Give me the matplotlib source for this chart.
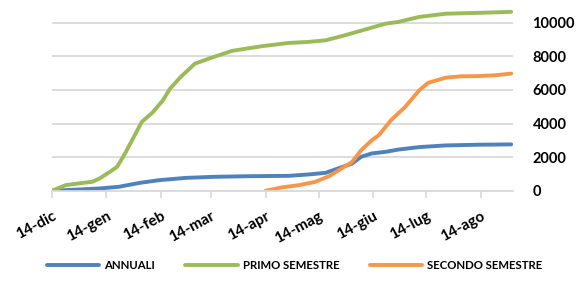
import matplotlib.pyplot as plt
import pandas as pd

OUTPUT_FILE = "out.png"

# cumulative counts
ANNUALI_DATES = [
    "2016-12-14", "2016-12-22", "2017-01-10", "2017-01-21", "2017-02-02",
    "2017-02-13", "2017-02-28", "2017-03-15", "2017-04-05", "2017-04-27",
    "2017-05-08", "2017-05-18", "2017-05-25", "2017-06-02", "2017-06-07",
    "2017-06-13", "2017-06-21", "2017-06-28", "2017-07-10", "2017-07-25",
    "2017-08-12", "2017-08-31",
]
ANNUALI = [
    0, 40, 140, 240, 475,
    635, 770, 830, 870, 890,
    970, 1070, 1330, 1620, 2020,
    2220, 2320, 2450, 2600, 2700,
    2740, 2760,
]

PRIMO_DATES = [
    "2016-12-14", "2016-12-22", "2017-01-01", "2017-01-06", "2017-01-10",
    "2017-01-16", "2017-01-20", "2017-01-24", "2017-01-29", "2017-02-03",
    "2017-02-09", "2017-02-15", "2017-02-19", "2017-02-25", "2017-03-05",
    "2017-03-13", "2017-03-26", "2017-04-12", "2017-04-27", "2017-05-08",
    "2017-05-18", "2017-05-29", "2017-06-09", "2017-06-21", "2017-06-28",
    "2017-07-10", "2017-07-25", "2017-08-12", "2017-08-31",
]
PRIMO = [
    0, 340, 475, 535, 730,
    1130, 1430, 2120, 3110, 4100,
    4650, 5390, 6080, 6770, 7560,
    7860, 8320, 8600, 8790, 8850,
    8950, 9250, 9580, 9940, 10040,
    10340, 10530, 10580, 10640,
]

SECONDO_DATES = [
    "2017-04-14", "2017-04-23", "2017-05-03", "2017-05-12", "2017-05-20",
    "2017-05-27", "2017-06-02", "2017-06-07", "2017-06-13", "2017-06-17",
    "2017-06-24", "2017-07-02", "2017-07-10", "2017-07-15", "2017-07-25",
    "2017-08-03", "2017-08-12", "2017-08-22", "2017-08-31",
]
SECONDO = [
    0, 200, 340, 530, 870,
    1330, 1720, 2400, 3000, 3300,
    4200, 4990, 5980, 6420, 6730,
    6810, 6820, 6870, 6970,
]

TICK_DATES = [
    "2016-12-14", "2017-01-14", "2017-02-14", "2017-03-14", "2017-04-14",
    "2017-05-14", "2017-06-14", "2017-07-14", "2017-08-14",
]
TICK_LABELS = [
    "14-dic", "14-gen", "14-feb", "14-mar", "14-apr",
    "14-mag", "14-giu", "14-lug", "14-ago",
]

SERIES = [
    ("ANNUALI", ANNUALI_DATES, ANNUALI, "#4F81BD"),
    ("PRIMO SEMESTRE", PRIMO_DATES, PRIMO, "#9BBB59"),
    ("SECONDO SEMESTRE", SECONDO_DATES, SECONDO, "#F79646"),
]

GRID_COLOR = "#d9d9d9"


def main() -> None:
    plt.rcParams["font.family"] = ["Lato", "DejaVu Sans"]
    plt.rcParams["font.weight"] = "bold"

    figure = plt.figure(figsize=(5.8, 2.9), dpi=100)
    axis = figure.add_axes([0.0891, 0.342, 0.7954, 0.638])

    for name, dates, values, color in SERIES:
        axis.plot(
            pd.to_datetime(dates),
            values,
            color=color,
            linewidth=2.8,
            solid_capstyle="round",
            solid_joinstyle="round",
            label=name,
        )

    axis.set_xlim(pd.Timestamp("2016-12-14"), pd.Timestamp("2017-09-01"))
    axis.set_ylim(0, 11000)
    axis.set_yticks(range(0, 10001, 2000))

    axis.set_xticks(pd.to_datetime(TICK_DATES))
    axis.set_xticklabels(
        TICK_LABELS,
        rotation=28,
        ha="right",
        va="top",
        rotation_mode="anchor",
    )

    axis.yaxis.tick_right()
    axis.tick_params(axis="y", length=0, pad=14, labelsize=10.5)
    axis.tick_params(
        axis="x", length=5, width=1.2, color=GRID_COLOR,
        pad=8, labelsize=11,
    )

    axis.grid(axis="y", color=GRID_COLOR, linewidth=1.3)
    axis.set_axisbelow(True)

    for side in ["left", "right", "top"]:
        axis.spines[side].set_visible(False)
    axis.spines["bottom"].set_color(GRID_COLOR)
    axis.spines["bottom"].set_linewidth(1.3)

    figure.legend(
        loc="center",
        bbox_to_anchor=(0.508, 0.083),
        ncol=3,
        frameon=False,
        fontsize=8.2,
        handlelength=4.6,
        handletextpad=0.42,
        columnspacing=2.7,
    )

    figure.savefig(OUTPUT_FILE, dpi=100)
    plt.close(figure)


if __name__ == "__main__":
    main()
